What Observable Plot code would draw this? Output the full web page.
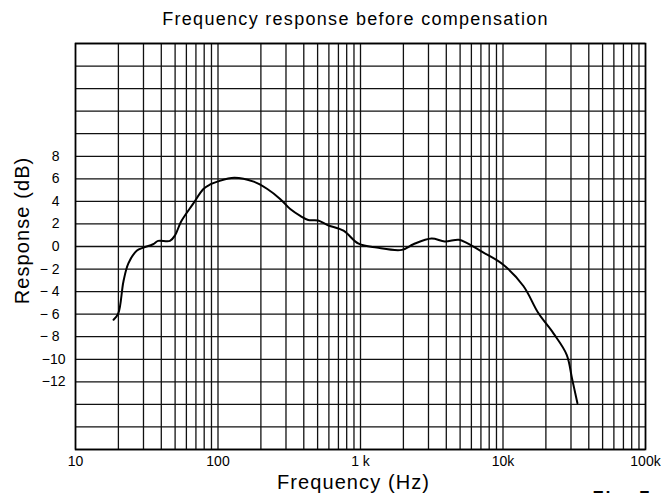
<!DOCTYPE html>
<html><head><meta charset="utf-8">
<script src="https://cdn.jsdelivr.net/npm/d3@7"></script>
<script src="https://cdn.jsdelivr.net/npm/@observablehq/plot@0.6"></script>
<style>body{margin:0;background:#fff} svg{display:block}</style>
</head><body><div id="chart"></div>
<script>
const freqHz = [18.5, 20, 21.7, 23.5, 27, 30, 35, 38, 46, 50, 55, 67, 79, 88, 99, 130, 178, 222, 274, 323, 380, 430, 504, 587, 760, 970, 1300, 1950, 2350, 3150, 3900, 4900, 5600, 7200, 10000, 13900, 17700, 22600, 28000, 30500, 33300];
const responseDb = [-6.5, -5.9, -3.1, -1.5, -0.35, -0.1, 0.2, 0.5, 0.5, 1.0, 2.2, 3.8, 5.1, 5.5, 5.75, 6.1, 5.75, 5.1, 4.2, 3.3, 2.7, 2.35, 2.3, 1.9, 1.4, 0.25, -0.1, -0.3, 0.2, 0.7, 0.45, 0.6, 0.3, -0.5, -1.6, -3.5, -5.9, -7.7, -9.6, -11.7, -13.9];

const xTickValues = [10, 100, 1000, 10000, 100000];
const xTickLabels = ["10", "100", "1 k", "10k", "100k"];
const yTickValues = [8, 6, 4, 2, 0, -2, -4, -6, -8];
const yTickLabels = ["8", "6", "4", "2", "0", "\u2212 2", "\u2212 4", "\u2212 6", "\u2212 8"];
const yTickValuesWide = [-10, -12];
const yTickLabelsWide = ["\u221210", "\u221212"];
const gridDecades = [10, 100, 1000, 10000];
const gridMultipliers = [1, 2, 3, 4, 5, 6, 7, 8, 9];
const gridDb = [-18, -16, -14, -12, -10, -8, -6, -4, -2, 0, 2, 4, 6, 8, 10, 12, 14, 16, 18];

const titleText = "Frequency response before compensation";
const xLabel = "Frequency (Hz)";
const yLabel = "Response (dB)";
const figLabel = "Fig. 7";

const gridHz = gridDecades.flatMap(d => gridMultipliers.map(m => d * m)).concat([100000]);
const curve = freqHz.map((f, i) => ({f, db: responseDb[i]}));

const font = "'Liberation Sans', Helvetica, Arial, sans-serif";

const chart = Plot.plot({
  width: 661,
  height: 493,
  marginTop: 43,
  marginLeft: 75,
  marginRight: 16,
  marginBottom: 44,
  style: {fontFamily: font, fontSize: "14px", background: "#fff", color: "#000"},
  x: {type: "log", domain: [10, 100000]},
  y: {domain: [-18, 18]},
  marks: [
    Plot.ruleX(gridHz, {stroke: "#111", strokeWidth: 1.3}),
    Plot.ruleY(gridDb, {stroke: "#111", strokeWidth: 1.3}),
    Plot.frame({stroke: "#000", strokeWidth: 1.6}),
    Plot.axisX({ticks: xTickValues, tickSize: 0, tickPadding: 7, tickFormat: (d) => xTickLabels[xTickValues.indexOf(d)], fontSize: 14, label: null}),
    Plot.axisY({ticks: yTickValues, tickSize: 0, tickPadding: 16, tickFormat: (d) => yTickLabels[yTickValues.indexOf(d)], fontSize: 14, label: null}),
    Plot.axisY({ticks: yTickValuesWide, tickSize: 0, tickPadding: 10, tickFormat: (d) => yTickLabelsWide[yTickValuesWide.indexOf(d)], fontSize: 14, label: null}),
    Plot.line(curve, {x: "f", y: "db", stroke: "#000", strokeWidth: 2, curve: "catmull-rom"}),
    Plot.text([titleText], {frameAnchor: "top", dx: -5, dy: -31, fontSize: 18, text: d => d, fill: "#000"}),
    Plot.text([xLabel], {frameAnchor: "bottom", dx: -7, dy: 39, fontSize: 20, text: d => d, fill: "#000"}),
    Plot.text([yLabel], {frameAnchor: "left", textAnchor: "middle", dx: -53, dy: -16, rotate: -90, fontSize: 20, text: d => d, fill: "#000"}),
    Plot.text([figLabel], {frameAnchor: "bottom-right", dx: -53, dy: 42, lineAnchor: "top", textAnchor: "start", fontSize: 18, fontWeight: "bold", text: d => d, fill: "#000"})
  ]
});
chart.querySelectorAll("text").forEach(t => {
  const s = t.textContent;
  if (s === titleText) t.style.letterSpacing = "1.3px";
  if (s === xLabel || s === yLabel) t.style.letterSpacing = "1.1px";
  if (s === figLabel) t.style.letterSpacing = "2px";
});
document.getElementById("chart").append(chart);
</script>
</body></html>
